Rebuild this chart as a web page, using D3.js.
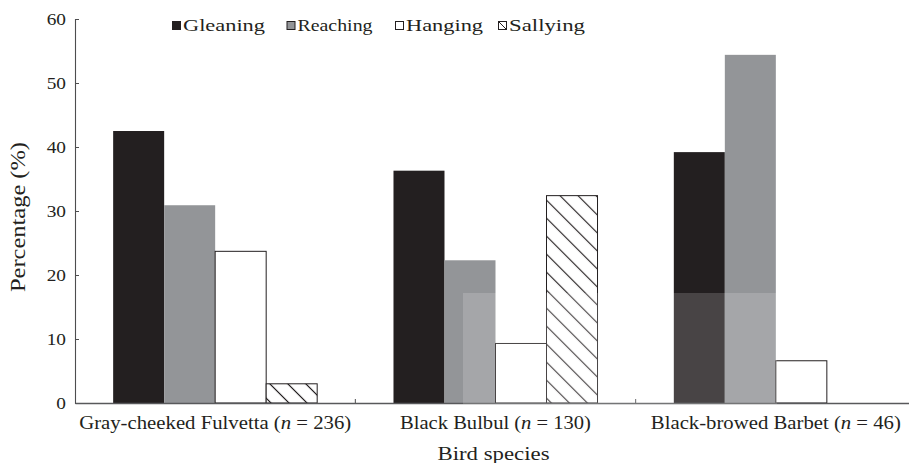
<!DOCTYPE html>
<html><head><meta charset="utf-8">
<script src="https://cdn.jsdelivr.net/npm/d3@7"></script>
<style>
body{margin:0;background:#fff;}
svg text{font-family:"Liberation Serif","Times New Roman",serif;fill:#231f20;}
</style></head><body>
<svg id="chart" width="909" height="463"></svg>
<script>
// ---- data ----
const categories = ["Gray-cheeked Fulvetta", "Black Bulbul", "Black-browed Barbet"];
const sampleSizes = [236, 130, 46];
const seriesNames = ["Gleaning", "Reaching", "Hanging", "Sallying"];
const gleaning = [42.5, 36.3, 39.2];
const reaching = [30.9, 22.3, 54.4];
const hanging = [23.7, 9.3, 6.6];
const sallying = [3.0, 32.4, 0];
const yTicks = [0, 10, 20, 30, 40, 50, 60];
const yTitle = "Percentage (%)";
const xTitle = "Bird species";

const seriesValues = [gleaning, reaching, hanging, sallying];
const rows = categories.map((c, i) => ({
  cat: c,
  values: seriesNames.map((s, j) => ({ key: s, value: seriesValues[j][i] }))
}));

// ---- styles ----
const ink = "#231f20";
const fills = { Gleaning: ink, Reaching: "#939598", Hanging: "#ffffff", Sallying: "url(#hatch)" };
const strokes = { Gleaning: "none", Reaching: "none", Hanging: ink, Sallying: ink };

const svg = d3.select("#chart");
const mLeft = 75, mRight = 916, mTop = 19, mBottom = 403;

const x0 = d3.scaleBand().domain(categories).range([mLeft, mRight]).padding(0);
const x1 = d3.scaleBand().domain(seriesNames).range([0, x0.bandwidth()]).paddingInner(0).paddingOuter(0.748);
const y = d3.scaleLinear().domain([0, 60]).range([mBottom, mTop]);

// hatch pattern
const defs = svg.append("defs");
const pw = 18 * Math.SQRT1_2;
const pat = defs.append("pattern").attr("id", "hatch")
  .attr("patternUnits", "userSpaceOnUse")
  .attr("width", pw).attr("height", 10)
  .attr("patternTransform", "rotate(-45)");
pat.append("rect").attr("width", pw).attr("height", 10).attr("fill", "#fff");
pat.append("line").attr("x1", pw / 2).attr("x2", pw / 2).attr("y1", -1).attr("y2", 11)
  .attr("stroke", ink).attr("stroke-width", 1.15);

// bars
const groups = svg.append("g").selectAll("g").data(rows).join("g")
  .attr("transform", d => `translate(${x0(d.cat)},0)`);
groups.selectAll("rect").data(d => d.values.filter(v => v.value > 0)).join("rect")
  .attr("x", d => x1(d.key))
  .attr("y", d => y(d.value))
  .attr("width", x1.bandwidth())
  .attr("height", d => y(0) - y(d.value))
  .attr("fill", d => fills[d.key])
  .attr("stroke", d => strokes[d.key])
  .attr("stroke-width", 1);

// y axis
const gy = svg.append("g").attr("transform", `translate(${mLeft},0)`)
  .call(d3.axisLeft(y).tickValues(yTicks).tickSize(-4).tickSizeOuter(-4).tickPadding(9));
gy.attr("font-family", null).attr("font-size", null);
gy.select(".domain").attr("stroke", "#4d4d4f").attr("stroke-width", 1.1);
gy.selectAll(".tick line").attr("stroke", "#4d4d4f");
gy.selectAll(".tick text").attr("font-size", 16.5).attr("fill", ink)
  .each(function () {
    const w = this.getComputedTextLength();
    d3.select(this).attr("textLength", w * 1.17).attr("lengthAdjust", "spacingAndGlyphs");
  });

// x axis
const catWidths = [272, 191, 250];
const gx = svg.append("g").attr("transform", `translate(0,${mBottom})`)
  .call(d3.axisBottom(x0).tickSize(0).tickSizeOuter(0));
gx.attr("font-family", null).attr("font-size", null);
gx.select(".domain").attr("stroke", "#58595b").attr("stroke-width", 1.4);
gx.selectAll(".tick text").each(function (d, i) {
  const t = d3.select(this);
  t.text(null).attr("y", 26).attr("dy", 0).attr("font-size", 18).attr("fill", ink)
    .attr("textLength", catWidths[i]).attr("lengthAdjust", "spacingAndGlyphs");
  t.append("tspan").text(d + " (");
  t.append("tspan").attr("font-style", "italic").text("n");
  t.append("tspan").text(" = " + sampleSizes[i] + ")");
});
// category boundary ticks
gx.selectAll(".sep").data(categories.slice(1)).join("line").attr("class", "sep")
  .attr("x1", d => x0(d)).attr("x2", d => x0(d))
  .attr("y1", 0).attr("y2", -4).attr("stroke", "#4d4d4f");

// axis titles
svg.append("text")
  .attr("transform", `translate(25,${(mTop + mBottom) / 2 + 6}) rotate(-90)`)
  .attr("text-anchor", "middle").attr("font-size", 20)
  .attr("textLength", 150).attr("lengthAdjust", "spacingAndGlyphs")
  .text(yTitle);
svg.append("text")
  .attr("x", (mLeft + mRight) / 2 - 2).attr("y", 460)
  .attr("text-anchor", "middle").attr("font-size", 19.5)
  .attr("textLength", 112).attr("lengthAdjust", "spacingAndGlyphs")
  .text(xTitle);

// legend
const legX = [172, 286.5, 395, 498];
const legW = [82, 75, 77, 76];
const leg = svg.append("g").selectAll("g").data(seriesNames).join("g")
  .attr("transform", (d, i) => `translate(${legX[i]},21.5)`);
leg.append("rect").attr("x", 0.5).attr("y", 0).attr("width", 8).attr("height", 8)
  .attr("fill", d => d === "Sallying" ? "#fff" : fills[d]).attr("stroke", ink).attr("stroke-width", 1);
leg.filter(d => d === "Sallying").append("line")
  .attr("x1", 0.5).attr("y1", 0).attr("x2", 8.5).attr("y2", 8).attr("stroke", ink).attr("stroke-width", 1);
leg.append("text").attr("x", 11).attr("y", 9).attr("font-size", 17)
  .attr("textLength", (d, i) => legW[i]).attr("lengthAdjust", "spacingAndGlyphs")
  .text(d => d);

// faint publisher watermark panel overlaying the lower middle of the plot
svg.append("rect").attr("x", 463).attr("y", 293).attr("width", 314).attr("height", 111)
  .attr("fill", "#fff").attr("opacity", 0.17).attr("pointer-events", "none");
</script>
</body></html>
